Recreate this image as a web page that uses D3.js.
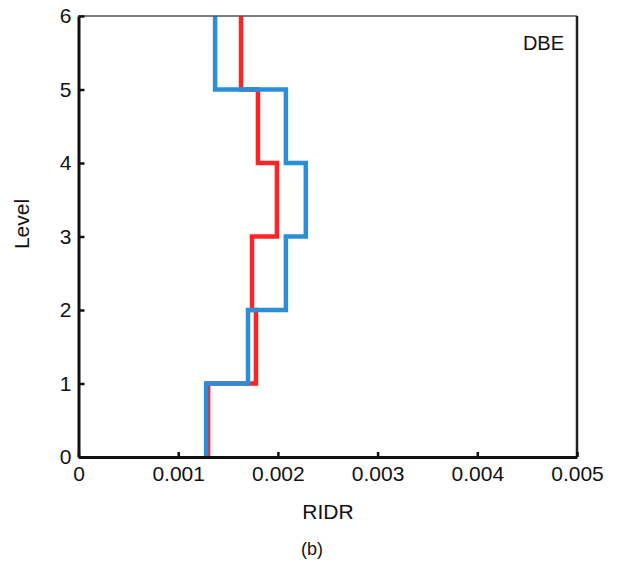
<!DOCTYPE html>
<html><head><meta charset="utf-8">
<script src="https://cdn.jsdelivr.net/npm/d3@7"></script>
<style>body{margin:0;background:#fff}text{font-family:"Liberation Sans",Arial,sans-serif;fill:#111}</style>
</head><body><svg id="c" width="623" height="564"></svg>
<script>
const stories = [1,2,3,4,5,6];
const redDrift  = [0.00130,0.00178,0.00174,0.00199,0.00180,0.00163];
const blueDrift = [0.00128,0.00170,0.00208,0.00228,0.00208,0.00137];
const xTicks = [0,0.001,0.002,0.003,0.004,0.005];
const yTicks = [0,1,2,3,4,5,6];

const svg = d3.select("#c");
const x = d3.scaleLinear().domain([0,0.005]).range([78.5,577]);
const y = d3.scaleLinear().domain([0,6]).range([457,16]);

function stepPts(vals){
  const pts=[];
  stories.forEach((s,i)=>{pts.push([vals[i],s-1]);pts.push([vals[i],s]);});
  return pts;
}
const line = d3.line().x(d=>x(d[0])).y(d=>y(d[1]));

svg.append("path").datum(stepPts(redDrift)).attr("d",line)
  .attr("fill","none").attr("stroke","#ff2424").attr("stroke-width",4.5).attr("stroke-linejoin","miter");
svg.append("path").datum(stepPts(blueDrift)).attr("d",line)
  .attr("fill","none").attr("stroke","#2a8fdb").attr("stroke-width",4.5).attr("stroke-linejoin","miter");

// frame
svg.append("line").attr("x1",x(0)).attr("x2",x(0.005)).attr("y1",y(6)).attr("y2",y(6)).attr("stroke","#555").attr("stroke-width",1.5);
svg.append("line").attr("x1",x(0.005)).attr("x2",x(0.005)).attr("y1",y(6)).attr("y2",y(0)).attr("stroke","#222").attr("stroke-width",2.5);

const FS = 21;
const xAxis = svg.append("g").attr("transform",`translate(0,${y(0)})`)
  .call(d3.axisBottom(x).tickValues(xTicks).tickFormat(d=>d===0?"0":d3.format(".3f")(d)).tickSizeInner(-5).tickSizeOuter(0).tickPadding(9));
xAxis.select(".domain").attr("stroke","#111").attr("stroke-width",3);
xAxis.selectAll(".tick line").attr("stroke","#111").attr("stroke-width",2.5);
xAxis.selectAll("text").attr("font-size",FS).attr("fill","#111").style("font-family","Liberation Sans, Arial, sans-serif");

const yAxis = svg.append("g").attr("transform",`translate(${x(0)},0)`)
  .call(d3.axisLeft(y).tickValues(yTicks).tickFormat(d3.format("d")).tickSizeInner(-6).tickSizeOuter(0).tickPadding(7));
yAxis.select(".domain").attr("stroke","#111").attr("stroke-width",3);
yAxis.selectAll(".tick line").attr("stroke","#111").attr("stroke-width",2.5);
yAxis.selectAll("text").attr("font-size",FS).attr("fill","#111").style("font-family","Liberation Sans, Arial, sans-serif");

svg.append("text").attr("x",328).attr("y",519).attr("text-anchor","middle").attr("font-size",21).text("RIDR");
svg.append("text").attr("transform","translate(29,224) rotate(-90)").attr("text-anchor","middle").attr("font-size",21).text("Level");
svg.append("text").attr("x",312).attr("y",555).attr("text-anchor","middle").attr("font-size",18).text("(b)");
svg.append("text").attr("x",564).attr("y",50).attr("text-anchor","end").attr("font-size",20).text("DBE");
</script></body></html>
